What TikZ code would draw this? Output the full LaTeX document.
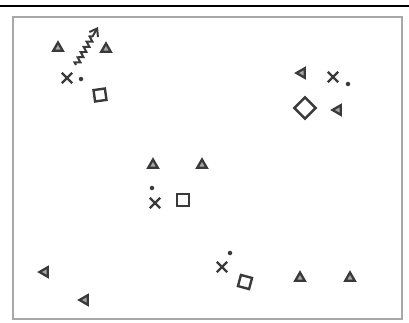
\documentclass[tikz,border=0pt]{standalone}
\usepackage{xcolor}
\usetikzlibrary{arrows.meta, shapes.geometric, shapes.misc, decorations.pathmorphing}
\definecolor{inkgray}{HTML}{3A3A3A}
\definecolor{framegray}{HTML}{A8A8A8}

\begin{document}
\begin{tikzpicture}[
  x=1pt, y=-1pt,
  tri/.style     = {regular polygon, regular polygon sides=3, draw=inkgray,
                    fill=inkgray!45, line width=2.3pt, inner sep=0pt,
                    minimum size=11pt},
  trileft/.style = {tri, shape border rotate=90},
  sq/.style      = {rectangle, draw=inkgray, line width=2.4pt, inner sep=0pt,
                    minimum size=11.5pt},
  dia/.style     = {sq, minimum size=15pt, rotate=45},
  cross/.style   = {cross out, draw=inkgray, line width=2.4pt, inner sep=0pt,
                    minimum size=8pt},
  dot/.style     = {circle, fill=inkgray, inner sep=0pt, minimum size=4.5pt},
  wavy/.style    = {-{Straight Barb[length=7pt, width=10pt]}, inkgray,
                    line width=2pt,
                    decoration={zigzag, amplitude=2.5pt, segment length=6pt,
                                post length=9pt},
                    decorate},
]
\useasboundingbox (0,0) rectangle (409,322);

% Frame
\draw[line width=2.4pt, black] (0,6) -- (409,6);
\draw[line width=1.8pt, framegray] (13,17) rectangle (402,319);

% Group top left
\node[tri]   (tlA)  at (58,48)  {};
\node[tri]   (tlB)  at (106,49) {};
\node[cross] (tlX)  at (67,78)  {};
\node[dot]   (tlD)  at (81,79)  {};
\node[sq, rotate=8] (tlS) at (100,95) {};
\coordinate (tlFrom) at (76,65);
\coordinate (tlTo)   at (98,27);
\draw[wavy] (tlFrom) -- (tlTo);

% Group top right
\node[trileft] (trA) at (302,73)  {};
\node[cross]   (trX) at (333,77)  {};
\node[dot]     (trD) at (348,84)  {};
\node[dia]     (trQ) at (305,108) {};
\node[trileft] (trB) at (338,110) {};

% Group centre
\node[tri]   (cA) at (153,165) {};
\node[tri]   (cB) at (202,165) {};
\node[dot]   (cD) at (152,188) {};
\node[cross] (cX) at (155,203) {};
\node[sq]    (cS) at (183,200) {};

% Group bottom right
\node[dot]   (brD) at (230,253) {};
\node[cross] (brX) at (222,267) {};
\node[sq, rotate=-15] (brS) at (245,282) {};
\node[tri]   (brA) at (300,278) {};
\node[tri]   (brB) at (350,278) {};

% Group bottom left
\node[trileft] (blA) at (45,272) {};
\node[trileft] (blB) at (85,300) {};
\end{tikzpicture}
\end{document}
